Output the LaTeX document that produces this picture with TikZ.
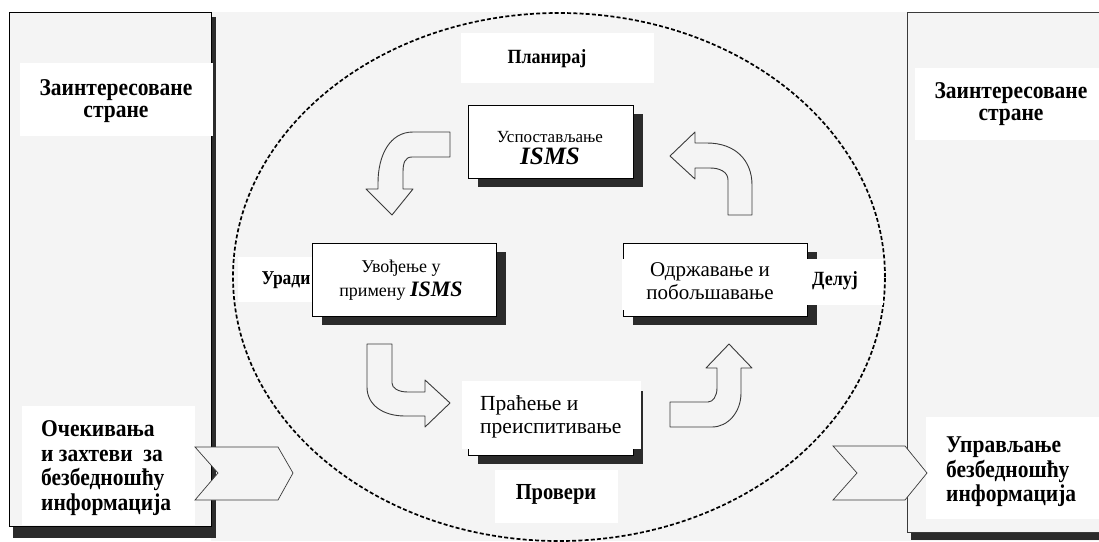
\documentclass[tikz,border=0pt]{standalone}
\usepackage{fontspec}
\setmainfont{Liberation Serif}
\usetikzlibrary{calc,fit,shadows,shapes.geometric}
\definecolor{panelgray}{HTML}{F4F4F4}
\definecolor{shadowgray}{HTML}{2B2B2B}
\definecolor{edgegray}{HTML}{3A3A3A}
\newcommand{\setsz}[2]{\fontsize{#1}{#2}\selectfont}
\newcommand{\isms}[1]{{\fontsize{#1}{#1}\selectfont\bfseries\itshape ISMS}}
% a text node set slightly taller than wide: name, position, options, text
\newcommand{\tallnode}[4]{%
  \begin{scope}[shift={#2}, yscale=1.12]
    \node[transform shape, inner sep=0pt, #3] (#1) at (0,0) {#4};
  \end{scope}}

\begin{document}
\begin{tikzpicture}[x=1pt,y=-1pt,
  panel/.style={draw=edgegray, line width=0.8pt, fill=panelgray, inner sep=0pt, outer sep=0pt},
  shade/.style={fill=shadowgray, draw=none},
  tag/.style={fill=white, draw=none, inner sep=0pt, outer sep=0pt},
  stage/.style={draw=black, line width=0.7pt, fill=white, inner sep=0pt, outer sep=0pt,
    drop shadow={shadow xshift=10pt, shadow yshift=-9pt, opacity=1, fill=shadowgray}},
  flow/.style={draw=edgegray, line width=0.9pt, fill=panelgray, line join=round},
  chevron/.style={draw=edgegray, line width=0.7pt, fill=panelgray, line join=miter},
  cycleline/.style={draw=black, line width=1.7pt, dash pattern=on 4pt off 2.2pt},
  side/.style={font=\bfseries\setsz{21.5}{19.5}},
  sidelist/.style={font=\bfseries\setsz{21.5}{22}, align=left, anchor=west},
  stagetext/.style={inner sep=0pt},
]
\useasboundingbox (0,0) rectangle (1099,541);
\fill[white] (0,0) rectangle (1099,541);

% central field between the two side panels
\fill[panelgray] (211,12) rectangle (1099,541);

% left and right side panels with their shadows
\fill[shade] (13,17) rectangle (216,538);
\node[panel, draw=black, fit={(9,12) (211,526)}] (leftpanel) {};
\fill[shade] (911,17) rectangle (1110,540);
\node[panel, fit={(907,12) (1110,532)}] (rightpanel) {};

% the dashed PDCA cycle
\node[cycleline, ellipse, minimum width=652pt, minimum height=528pt, inner sep=0pt] (cycle) at (559,277) {};

% curved block arrows between the four stages
\draw[flow] (450,132) -- (413,132) .. controls (390,132) and (378,155) .. (378,183)
  -- (378,189) -- (366,189) -- (392,215) -- (413,189) -- (403,189) -- (403,172)
  .. controls (403,163) and (405,157) .. (412,157) -- (450,157) -- cycle;
\draw[flow] (728,215) -- (752,215) -- (752,185) .. controls (752,160) and (735,143) .. (707,143)
  -- (695,143) -- (695,132) -- (670,156) -- (695,179) -- (695,168) -- (710,168)
  .. controls (720,168) and (728,172) .. (728,180) -- cycle;
\draw[flow] (367,344) -- (392,344) -- (392,383) .. controls (392,388) and (398,392) .. (408,392)
  -- (425,392) -- (425,380) -- (450,403) -- (425,427) -- (425,416) -- (405,416)
  .. controls (383,416) and (367,405) .. (367,387) -- cycle;
\draw[flow] (670,402) -- (708,402) .. controls (713,402) and (717,396) .. (717,388)
  -- (717,368) -- (706,368) -- (729,344) -- (752,368) -- (741,368) -- (741,393)
  .. controls (741,412) and (728,427) .. (712,427) -- (670,427) -- cycle;

% the four stages
\node[stage, fit={(468,105) (633,178)}] (plan) {};
\node[stagetext, align=center, font=\setsz{17}{21.5}] (plantext) at (550,148)
  {Успостављање\\\isms{25}};
\node[stage, fit={(312,243) (496,316)}] (do) {};
\node[stagetext, align=center, font=\setsz{18}{24}] (dotext) at (401,280)
  {Увођење у\\примену \isms{22}};
\node[stage, fit={(623,243) (807,316)}] (act) {};
\node[tag, fit={(622,259) (799,310)}] (actfield) {};
\node[stagetext, align=center, font=\setsz{21}{22.5}] (acttext) at (710,281)
  {Одржавање и\\побољшавање};
\node[stage, fit={(468,382) (633,455)}] (check) {};
\node[tag, fit={(462,381) (641,449)}] (checkfield) {};
\node[stagetext, align=left, anchor=west, font=\setsz{21.5}{22.5}] (checktext) at (480,417)
  {Праћење и\\преиспитивање};

% phase labels
\node[tag, fit={(461,33) (654,83)}] (plabel) {};
\tallnode{ptext}{(547,59)}{font=\bfseries\setsz{18}{20}}{Планирај}
\node[tag, fit={(238,257) (312,302)}] (dlabel) {};
\tallnode{dtext}{(286,280)}{font=\bfseries\setsz{17.5}{20}}{Уради}
\node[tag, fit={(798,259) (883,305)}] (alabel) {};
\tallnode{atext}{(835,281)}{font=\bfseries\setsz{18}{20}}{Делуј}
\node[tag, fit={(495,470) (618,523)}] (clabel) {};
\tallnode{ctext}{(556,494)}{font=\bfseries\setsz{20.5}{22}}{Провери}

% side panel labels
\node[tag, fit={(20,63) (213,136)}] (lparty) {};
\tallnode{lpartytext}{(116,101)}{side, align=center}{Заинтересоване\\стране}
\node[tag, fit={(915,68) (1107,140)}] (rparty) {};
\tallnode{rpartytext}{(1011,104)}{side, align=center}{Заинтересоване\\стране}
\node[tag, fit={(22,406) (195,525)}] (lin) {};
\tallnode{lintext}{(41,468)}{sidelist}{Очекивања\\и захтеви\ \ за\\безбедношћу\\информација}
\node[tag, fit={(926,417) (1107,519)}] (rout) {};
\tallnode{routtext}{(946,472)}{sidelist}{Управљање\\безбедношћу\\информација}

% input and output chevrons
\draw[chevron] (195,447) -- (278,447) -- (293,473) -- (278,500) -- (195,500) -- (218,473) -- cycle;
\draw[chevron] (833,446) -- (905,446) -- (927,473) -- (905,500) -- (833,500) -- (857,473) -- cycle;
\end{tikzpicture}
\end{document}
